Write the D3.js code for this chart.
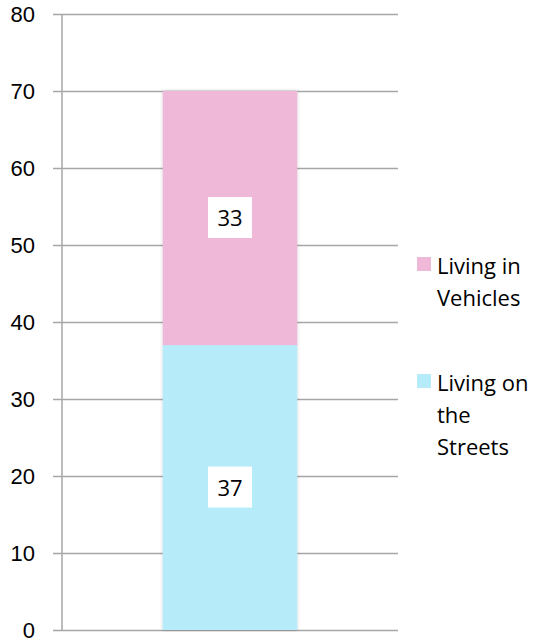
<!DOCTYPE html>
<html><head><meta charset="utf-8">
<script src="https://cdn.jsdelivr.net/npm/d3@7"></script>
<style>body{margin:0;background:#fff;} svg{display:block;font-family:"Open Sans",sans-serif;}</style>
</head><body>
<script>
const categories = ["Total"];
const seriesNames = ["Living on the Streets", "Living in Vehicles"];
const streets = [37];
const vehicles = [33];
const colors = ["#b6ecfa", "#f0b8d8"];
const yTicks = [0,10,20,30,40,50,60,70,80];
const legendLines = [["Living in","Vehicles"],["Living on","the","Streets"]];

const W=533,H=643;
const svg=d3.select("body").append("svg").attr("width",W).attr("height",H);
const defs=svg.append("defs");
const f=defs.append("filter").attr("id","sh").attr("x","-10%").attr("y","-10%").attr("width","120%").attr("height","120%");
f.append("feDropShadow").attr("dx",0).attr("dy",0).attr("stdDeviation",1.5).attr("flood-color","#000").attr("flood-opacity",0.25);

const x0=62,x1=398,yTop=14,yBot=630;
const y=d3.scaleLinear().domain([0,80]).range([yBot,yTop]);
const x=d3.scaleBand().domain(categories).range([x0,x1]).paddingInner(0.6).paddingOuter(0.3);

// gridlines
const ax=d3.axisLeft(y).tickValues(yTicks).tickSize(x1-x0+9).tickPadding(18);
const g=svg.append("g").attr("transform",`translate(${x1},0)`).call(ax);
g.select(".domain").remove();
g.selectAll(".tick line").attr("stroke","#a6a6a6").attr("stroke-width",1.5);
g.selectAll(".tick text").attr("font-size",22).attr("fill","#000").attr("font-family","'Liberation Sans', Arial, sans-serif").attr("dy","0.36em");
// y axis line
svg.append("line").attr("x1",x0).attr("x2",x0).attr("y1",yTop).attr("y2",yBot).attr("stroke","#a6a6a6").attr("stroke-width",1.5);

const data=categories.map((c,i)=>({cat:c,"Living on the Streets":streets[i],"Living in Vehicles":vehicles[i]}));
const stack=d3.stack().keys(seriesNames)(data);
const bw=x.bandwidth();
svg.append("g").attr("filter","url(#sh)").selectAll("g").data(stack).join("g").attr("fill",(d,i)=>colors[i])
 .selectAll("rect").data(d=>d).join("rect")
 .attr("x",d=>x(d.data.cat)).attr("width",bw).attr("y",d=>y(d[1])).attr("height",d=>y(d[0])-y(d[1]));

// labels
stack.forEach((s,i)=>{
  s.forEach(d=>{
    const v=d[1]-d[0], cx=x(d.data.cat)+bw/2, cy=(y(d[0])+y(d[1]))/2;
    svg.append("rect").attr("x",cx-22).attr("y",cy-21).attr("width",44).attr("height",41).attr("fill","#fff");
    svg.append("text").attr("x",cx).attr("y",cy+8).attr("text-anchor","middle").attr("font-size",22).text(v);
  });
});

// legend
const legY=[257,374];
[1,0].forEach((si,k)=>{
  const lg=svg.append("g");
  lg.append("rect").attr("x",417).attr("y",legY[k]).attr("width",14).attr("height",14).attr("fill",colors[si]);
  const t=lg.append("text").attr("x",437).attr("y",legY[k]+17).attr("font-size",22);
  legendLines[k].forEach((ln,j)=>t.append("tspan").attr("x",437).attr("dy",j?32:0).text(ln));
});
</script>
</body></html>
